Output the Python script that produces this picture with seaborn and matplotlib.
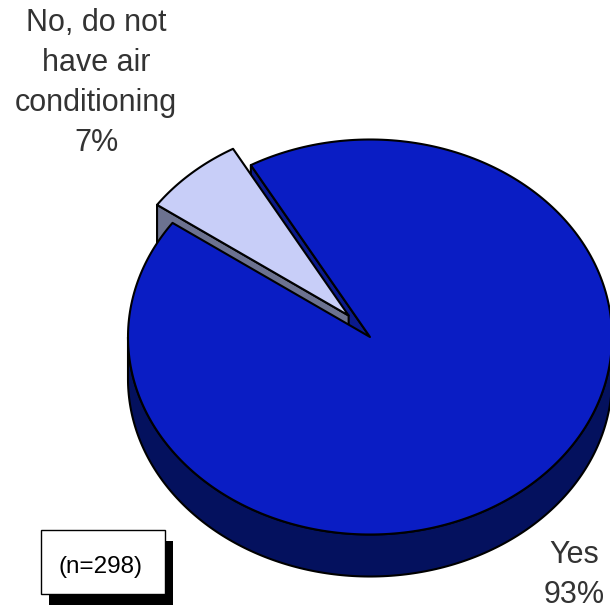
import numpy as np
import matplotlib
matplotlib.use("Agg")
import matplotlib.pyplot as plt
import seaborn as sns
from matplotlib.patches import Rectangle

# ---- data ----
categories = ["Yes", "No, do not\nhave air\nconditioning"]
values = [93, 7]
pct_labels = ["93%", "7%"]
explode = [0.0, 0.14]
top_colors = ["#0A1DC4", "#C8CEF8"]
wall_colors = ["#04115E", "#6C7290"]
radial_colors = ["#0B1A8C", "#6C7290"]
note = "(n=298)"

sns.set_style("white")
plt.rcParams["font.family"] = ["Liberation Sans", "DejaVu Sans"]

W, H = 610, 609
fig = plt.figure(figsize=(W / 100, H / 100), dpi=100)
ax = fig.add_axes([0, 0, 1, 1])
ax.set_xlim(0, W)
ax.set_ylim(H, 0)
ax.axis("off")

# pie geometry (layout)
cx, cy = 370.0, 337.0
a, b = 242.0, 197.5
depth = 42.0
start = 119.5  # degrees, clockwise order
radius_scale = [1.0, 0.97]
lw = 1.5
ec = "black"


def pt(theta, ox, oy, r=1.0, dz=0.0):
    t = np.deg2rad(theta)
    return ox + r * a * np.cos(t), oy - r * b * np.sin(t) + dz


vals = np.array(values, dtype=float)
fr = vals / vals.sum() * 360.0
slices = []
cum = 0.0
for i, f in enumerate(fr):
    hi = start - cum
    lo = hi - f
    cum += f
    mid = np.deg2rad((lo + hi) / 2 - 3)
    ox = cx + explode[i] * a * np.cos(mid)
    oy = cy - explode[i] * b * np.sin(mid)
    slices.append((lo, hi, ox, oy, radius_scale[i]))

# side faces
for i, (lo, hi, ox, oy, r) in enumerate(slices):
    for th, nrm in ((lo, lo - 90), (hi, hi + 90)):
        if np.sin(np.deg2rad(nrm)) < 0:
            px, py = pt(th, ox, oy, r)
            xs = [ox, px, px, ox]
            ys = [oy, py, py + depth, oy + depth]
            ax.fill(xs, ys, facecolor=radial_colors[i], edgecolor=ec, lw=lw, joinstyle="round")
    for k in range(-2, 3):
        s0 = max(lo, 180 + 360 * k)
        s1 = min(hi, 360 + 360 * k)
        if s1 > s0:
            th = np.linspace(s0, s1, 200)
            x1, y1 = pt(th, ox, oy, r)
            xs = np.concatenate([x1, x1[::-1]])
            ys = np.concatenate([y1, (y1 + depth)[::-1]])
            ax.fill(xs, ys, facecolor=wall_colors[i], edgecolor=ec, lw=lw, joinstyle="round")

# top faces
for i, (lo, hi, ox, oy, r) in enumerate(slices):
    th = np.linspace(lo, hi, 300)
    x1, y1 = pt(th, ox, oy, r)
    xs = np.concatenate([[ox], x1, [ox]])
    ys = np.concatenate([[oy], y1, [oy]])
    ax.fill(xs, ys, facecolor=top_colors[i], edgecolor=ec, lw=lw, joinstyle="round")

# labels (one text per line)
tc = "#333333"
no_lines = categories[1].split("\n") + [pct_labels[1]]
for j, line in enumerate(no_lines):
    ax.text(96, 31 + 40 * j, line, ha="center", va="baseline", fontsize=22, color=tc)
yes_lines = [categories[0], pct_labels[0]]
for j, line in enumerate(yes_lines):
    ax.text(574, 563 + 40 * j, line, ha="center", va="baseline", fontsize=22, color=tc)

# note box with shadow
ax.add_patch(Rectangle((49, 541), 124, 64, facecolor="black", edgecolor="none"))
ax.add_patch(Rectangle((41, 530), 124, 64, facecolor="white", edgecolor="black", lw=1.0))
ax.text(100, 573, note, ha="center", va="baseline", fontsize=17.5, color="black")

fig.savefig("out.png", dpi=100)
